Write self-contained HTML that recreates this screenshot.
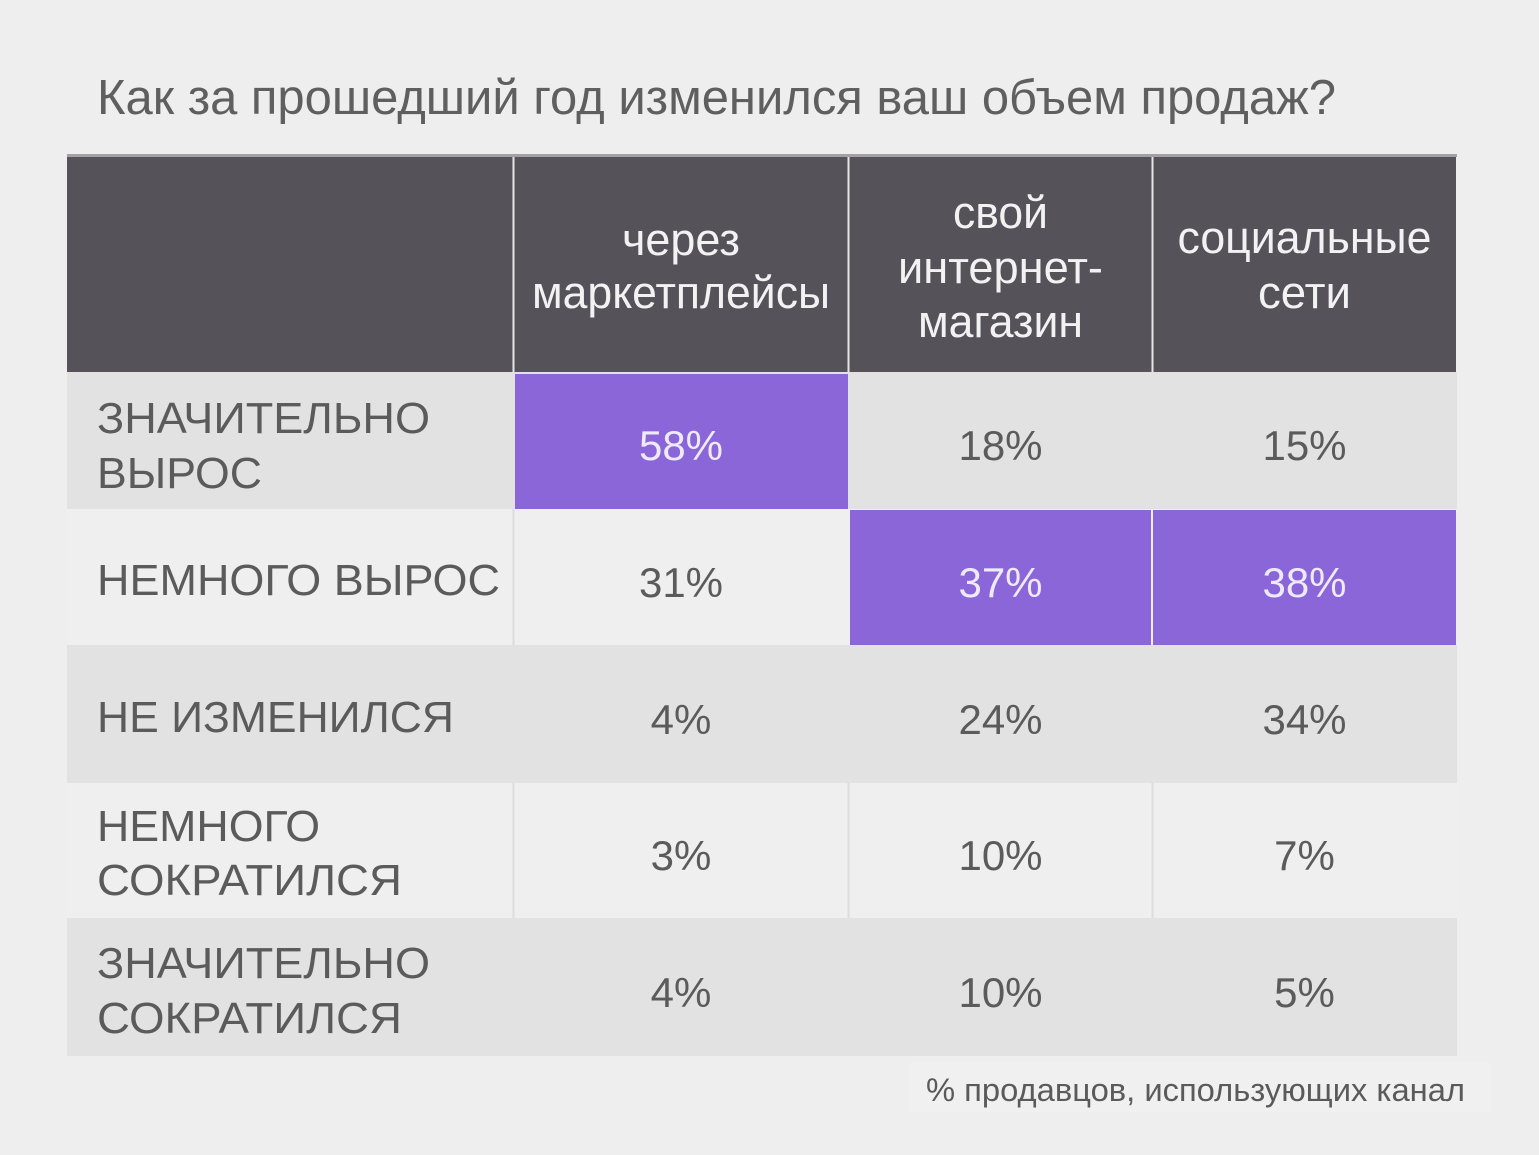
<!DOCTYPE html>
<html>
<head>
<meta charset="utf-8">
<style>
html,body{margin:0;padding:0;background:#eeeeee;}
svg{display:block;}
text{font-family:"Liberation Sans",Arial,sans-serif;}
</style>
</head>
<body>
<svg width="1539" height="1155" viewBox="0 0 1539 1155" xmlns="http://www.w3.org/2000/svg">
<rect x="0" y="0" width="1539" height="1155" fill="#eeeeee"/>

<!-- Title -->
<text x="97" y="114" font-size="49" fill="#5f5f5f" textLength="1239" lengthAdjust="spacingAndGlyphs">Как за прошедший год изменился ваш объем продаж?</text>

<!-- top line -->
<rect x="67" y="154" width="1390" height="3" fill="#a3a1a6"/>
<!-- header -->
<rect x="67" y="157" width="1389" height="215" fill="#55525a"/>
<rect x="512.5" y="157" width="2" height="215" fill="#e6e6e8"/>
<rect x="847.5" y="157" width="2" height="215" fill="#e6e6e8"/>
<rect x="1151.5" y="157" width="2" height="215" fill="#e6e6e8"/>

<!-- rows backgrounds -->
<rect x="67" y="372" width="1390" height="137" fill="#e2e2e3"/>
<rect x="67" y="509" width="1390" height="136" fill="#efefef"/>
<rect x="67" y="645" width="1390" height="138" fill="#e2e2e3"/>
<rect x="67" y="783" width="1390" height="135" fill="#efefef"/>
<rect x="67" y="918" width="1390" height="138" fill="#e2e2e3"/>

<!-- dividers in light rows -->
<rect x="512.5" y="509" width="2" height="136" fill="#dcdcdd"/>
<rect x="512.5" y="783" width="2" height="135" fill="#dcdcdd"/>
<rect x="847.5" y="783" width="2" height="135" fill="#dcdcdd"/>
<rect x="1151.5" y="783" width="2" height="135" fill="#dcdcdd"/>

<!-- purple cells -->
<rect x="515" y="374" width="333" height="135" fill="#8b66d8"/>
<rect x="850" y="510" width="301" height="135" fill="#8b66d8"/>
<rect x="1153" y="510" width="303" height="135" fill="#8b66d8"/>

<!-- header text -->
<g font-size="45" fill="#f2f2f2" text-anchor="middle">
<text x="681" y="255" textLength="118" lengthAdjust="spacingAndGlyphs">через</text>
<text x="681" y="308" textLength="298" lengthAdjust="spacingAndGlyphs">маркетплейсы</text>
<text x="1000.5" y="228" textLength="95" lengthAdjust="spacingAndGlyphs">свой</text>
<text x="1000.5" y="283" textLength="205" lengthAdjust="spacingAndGlyphs">интернет-</text>
<text x="1000.5" y="337" textLength="165" lengthAdjust="spacingAndGlyphs">магазин</text>
<text x="1304.5" y="253" textLength="254" lengthAdjust="spacingAndGlyphs">социальные</text>
<text x="1304.5" y="308" textLength="93" lengthAdjust="spacingAndGlyphs">сети</text>
</g>

<!-- row labels -->
<g font-size="44" fill="#5b5b5b">
<text x="97" y="433" textLength="333" lengthAdjust="spacingAndGlyphs">ЗНАЧИТЕЛЬНО</text>
<text x="97" y="488" textLength="165" lengthAdjust="spacingAndGlyphs">ВЫРОС</text>
<text x="97" y="595" textLength="403" lengthAdjust="spacingAndGlyphs">НЕМНОГО ВЫРОС</text>
<text x="97" y="732" textLength="357" lengthAdjust="spacingAndGlyphs">НЕ ИЗМЕНИЛСЯ</text>
<text x="97" y="841" textLength="223" lengthAdjust="spacingAndGlyphs">НЕМНОГО</text>
<text x="97" y="895" textLength="305" lengthAdjust="spacingAndGlyphs">СОКРАТИЛСЯ</text>
<text x="97" y="978" textLength="333" lengthAdjust="spacingAndGlyphs">ЗНАЧИТЕЛЬНО</text>
<text x="97" y="1033" textLength="305" lengthAdjust="spacingAndGlyphs">СОКРАТИЛСЯ</text>
</g>

<!-- values -->
<g font-size="42" text-anchor="middle" fill="#5b5b5b">
<text x="681" y="460" fill="#efeaf9">58%</text>
<text x="1000.5" y="460">18%</text>
<text x="1304.5" y="460">15%</text>

<text x="681" y="597">31%</text>
<text x="1000.5" y="597" fill="#efeaf9">37%</text>
<text x="1304.5" y="597" fill="#efeaf9">38%</text>

<text x="681" y="734">4%</text>
<text x="1000.5" y="734">24%</text>
<text x="1304.5" y="734">34%</text>

<text x="681" y="870">3%</text>
<text x="1000.5" y="870">10%</text>
<text x="1304.5" y="870">7%</text>

<text x="681" y="1007">4%</text>
<text x="1000.5" y="1007">10%</text>
<text x="1304.5" y="1007">5%</text>
</g>

<!-- footer -->
<rect x="910" y="1062" width="580" height="50" fill="#f0f0f0"/>
<text x="926" y="1101" font-size="32" fill="#5a5a5a" textLength="539" lengthAdjust="spacingAndGlyphs">% продавцов, использующих канал</text>
</svg>
</body>
</html>
